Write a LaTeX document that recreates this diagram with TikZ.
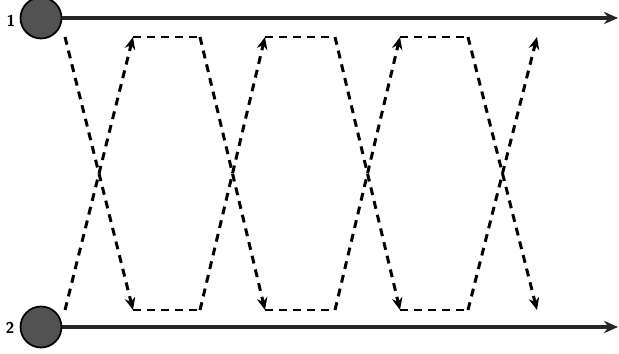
\documentclass[tikz,border=0pt]{standalone}
\usepackage{tikz}
\usetikzlibrary{arrows.meta}

\tikzset{
    proc/.style={draw=black, line width=1pt, circle, fill=black!68, minimum size=0.82cm, inner sep=0pt},
    timeline/.style={line width=1.9pt, black!85, -{Stealth[length=8pt,width=7pt]}},
    msg/.style={line width=1.7pt, dash pattern=on 4.5pt off 3.5pt, -{Stealth[length=7pt,width=6pt]}},
    link/.style={line width=1.7pt, dash pattern=on 4.5pt off 3.5pt}
}

\begin{document}
\begin{tikzpicture}[x=0.02cm, y=-0.02cm]
    \useasboundingbox (0,0) rectangle (619,354);

    % Processes
    \node[proc] (p1) at (41,18) {};
    \node[proc] (p2) at (41,327) {};
    \node[font=\sffamily\bfseries\small] (l1) at (11,21) {1};
    \node[font=\sffamily\bfseries\small] (l2) at (10,328) {2};
    \coordinate (e1) at (618,18);
    \coordinate (e2) at (618,327);

    % Timelines
    \draw[timeline] (p1) -- (e1);
    \draw[timeline] (p2) -- (e2);

    % Turning points
    \coordinate (t0) at (65,37);
    \coordinate (t1) at (133,37);
    \coordinate (t2) at (200,37);
    \coordinate (t3) at (265,37);
    \coordinate (t4) at (335,37);
    \coordinate (t5) at (400,37);
    \coordinate (t6) at (468,37);
    \coordinate (t7) at (537,37);
    \coordinate (b0) at (65,310);
    \coordinate (b1) at (133,310);
    \coordinate (b2) at (200,310);
    \coordinate (b3) at (265,310);
    \coordinate (b4) at (335,310);
    \coordinate (b5) at (400,310);
    \coordinate (b6) at (468,310);
    \coordinate (b7) at (537,310);

    % Messages from 1
    \draw[msg] (t0) -- (b1);
    \draw[link] (b1) -- (b2);
    \draw[msg] (b2) -- (t3);
    \draw[link] (t3) -- (t4);
    \draw[msg] (t4) -- (b5);
    \draw[link] (b5) -- (b6);
    \draw[msg] (b6) -- (t7);

    % Messages from 2
    \draw[msg] (b0) -- (t1);
    \draw[link] (t1) -- (t2);
    \draw[msg] (t2) -- (b3);
    \draw[link] (b3) -- (b4);
    \draw[msg] (b4) -- (t5);
    \draw[link] (t5) -- (t6);
    \draw[msg] (t6) -- (b7);
\end{tikzpicture}
\end{document}
